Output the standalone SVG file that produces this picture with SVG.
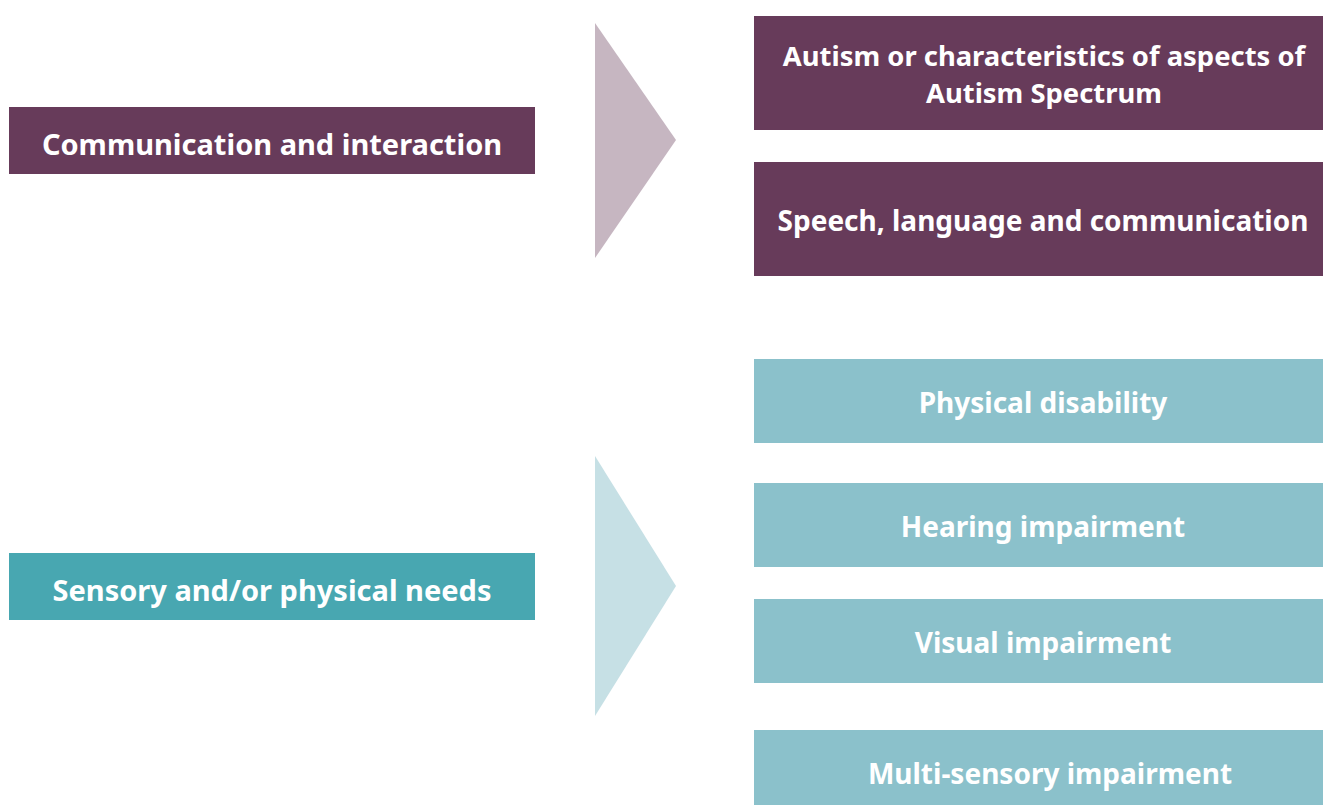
<svg xmlns="http://www.w3.org/2000/svg" width="1323" height="805" viewBox="0 0 1323 805">
<style>
.t{font-family:"Noto Sans","Open Sans",sans-serif;font-weight:bold;font-size:28px;fill:#ffffff;text-anchor:middle;dominant-baseline:central}
.big{font-size:29px}
.sm{font-size:27.4px}
.p{fill:#673b5a}
.c{fill:#48a7b1}
.l{fill:#8bc1cb}
</style>
<rect width="1323" height="805" fill="#ffffff"/>
<g id="connectors">
<polygon points="595,23 676,140 595,258" fill="#c6b6c1"/>
<polygon points="595,456 676,586 595,716" fill="#c6e0e5"/>
</g>
<g id="communication">
<rect class="p" x="9" y="107" width="526" height="67"/>
<text class="t big" x="272" y="143">Communication and interaction</text>
</g>
<g id="autism">
<rect class="p" x="754" y="16" width="569" height="114"/>
<text class="t sm" x="1044" y="55">Autism or characteristics of aspects of</text>
<text class="t sm" x="1044" y="92">Autism Spectrum</text>
</g>
<g id="speech">
<rect class="p" x="754" y="162" width="569" height="114"/>
<text class="t" x="1043" y="220">Speech, language and communication</text>
</g>
<g id="sensory">
<rect class="c" x="9" y="553" width="526" height="67"/>
<text class="t big" x="272" y="589">Sensory and/or physical needs</text>
</g>
<g id="physical">
<rect class="l" x="754" y="359" width="569" height="84"/>
<text class="t" x="1043" y="402">Physical disability</text>
</g>
<g id="hearing">
<rect class="l" x="754" y="483" width="569" height="84"/>
<text class="t" x="1043" y="526">Hearing impairment</text>
</g>
<g id="visual">
<rect class="l" x="754" y="599" width="569" height="84"/>
<text class="t" x="1043" y="642">Visual impairment</text>
</g>
<g id="multi">
<rect class="l" x="754" y="730" width="569" height="75"/>
<text class="t" x="1050" y="773">Multi-sensory impairment</text>
</g>
</svg>
